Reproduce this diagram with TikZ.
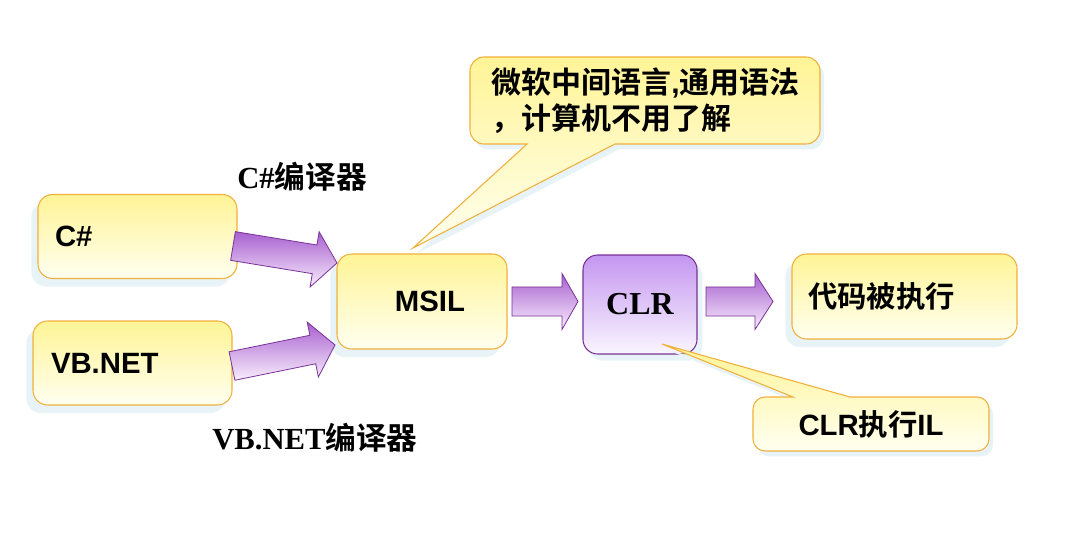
\documentclass[tikz,border=0pt]{standalone}
\usepackage{fontspec}
\setmainfont{Liberation Serif}
\newfontfamily\sans{Liberation Sans}
\newfontfamily\cjk{Noto Sans CJK SC}[BoldFont={Noto Sans CJK SC Bold}]
\usetikzlibrary{calc,shadows}
\definecolor{ytop}{RGB}{255,244,150}
\definecolor{ybot}{RGB}{255,255,240}
\definecolor{yborder}{RGB}{240,176,60}
\definecolor{ptop}{RGB}{196,150,240}
\definecolor{pbot}{RGB}{250,246,255}
\definecolor{pborder}{RGB}{120,50,150}
\definecolor{atop}{RGB}{168,96,208}
\definecolor{abot}{RGB}{248,238,252}
\definecolor{shadowc}{RGB}{232,243,248}
\newcommand\pxu{*0.75pt}
\newcommand\blockarrow[3]{%
  \coordinate (bah) at ($(#2)!#3!(#1)$);
  \draw[barrow] ($(#1)!10.9pt!90:(#2)$) -- ($(bah)!10.9pt!90:(#2)$) -- ($(bah)!21pt!90:(#2)$) -- (#2)
    -- ($(bah)!21pt!-90:(#2)$) -- ($(bah)!10.9pt!-90:(#2)$) -- ($(#1)!10.9pt!-90:(#2)$) -- cycle;}
\tikzset{
  boxshadow/.style={general shadow={fill=shadowc, shadow xshift=-5pt, shadow yshift=-6pt}},
  ybox/.style={rounded corners=11pt, draw=yborder, line width=0.8pt, top color=ytop, bottom color=ybot,
    boxshadow, inner sep=0pt, font=\sans\bfseries\fontsize{22}{26}\selectfont},
  pbox/.style={rounded corners=11pt, draw=pborder, line width=0.8pt, top color=ptop, bottom color=pbot,
    general shadow={fill=shadowc, shadow xshift=4pt, shadow yshift=-5pt}, inner sep=0pt,
    font=\bfseries\fontsize{24}{28}\selectfont},
  barrow/.style={draw=pborder, line width=0.6pt, top color=atop, bottom color=abot},
  callout/.style={draw=yborder, line width=0.8pt, top color=ytop, bottom color=ybot,
    general shadow={fill=shadowc, shadow xshift=3pt, shadow yshift=-4pt}},
  lbl/.style={inner sep=0pt, anchor=west, font=\bfseries\fontsize{23}{27}\selectfont},
  ctext/.style={inner sep=0pt, font=\cjk\bfseries\fontsize{22.5}{27}\selectfont}
}
\begin{document}
\begin{tikzpicture}[x=0.75pt,y=-0.75pt]
\useasboundingbox[fill=white] (0,0) rectangle (1069,538);

% boxes
\node[ybox, minimum width=199\pxu, minimum height=84\pxu, text width=165\pxu, inner xsep=17\pxu, align=left] (cs) at (137.5,236.5) {C\#};
\node[ybox, minimum width=199\pxu, minimum height=84\pxu, text width=163\pxu, inner xsep=18\pxu, align=left] (vb) at (132.5,363) {VB.NET};
\node[ybox, minimum width=170\pxu, minimum height=95\pxu] (msil) at (422,301.5) {\hspace*{12pt}MSIL};
\node[pbox, minimum width=114\pxu, minimum height=99\pxu] (clr) at (640,304.5) {CLR};
\node[ybox, minimum width=225\pxu, minimum height=85\pxu, text width=193\pxu, inner xsep=16\pxu, align=left] (exec) at (904.5,296.5) {\cjk 代码被执行};

% labels
\node[lbl] (l1) at (237,177) {C\#{\cjk 编译器}};
\node[lbl] (l2) at (212,438) {VB.NET{\cjk 编译器}};

% block arrows
\coordinate (a1s) at (233,246); \coordinate (a1e) at (337,263);
\coordinate (a2s) at (232,366); \coordinate (a2e) at (335,345);
\coordinate (a3s) at (512,301.5); \coordinate (a3e) at (578,301.5);
\coordinate (a4s) at (706,301.5); \coordinate (a4e) at (773,301.5);
\blockarrow{a1s}{a1e}{17pt}
\blockarrow{a2s}{a2e}{17pt}
\blockarrow{a3s}{a3e}{12pt}
\blockarrow{a4s}{a4e}{13.5pt}

% callout 1
\coordinate (t1) at (413,248);
\draw[callout] (484,57) -- (806,57) arc[start angle=-90, end angle=0, radius=14]
  -- (820,130) arc[start angle=0, end angle=90, radius=14]
  -- (615,144) -- (t1) -- (527,144)
  -- (484,144) arc[start angle=90, end angle=180, radius=14]
  -- (470,71) arc[start angle=180, end angle=270, radius=14] -- cycle;
\node[ctext, anchor=west, align=left] (c1) at (491,101) {微软中间语言{\sans\bfseries ,}通用语法\\，计算机不用了解};

% callout 2
\coordinate (t2) at (662,344);
\draw[callout] (t2) -- (850,397) -- (977,397) arc[start angle=-90, end angle=0, radius=12]
  -- (989,439) arc[start angle=0, end angle=90, radius=12]
  -- (765,451) arc[start angle=90, end angle=180, radius=12]
  -- (753,409) arc[start angle=180, end angle=270, radius=12]
  -- (793,397) -- cycle;
\node[inner sep=0pt, font=\sans\bfseries\fontsize{22}{26}\selectfont] (c2) at (871,424) {CLR{\cjk 执行}IL};
\end{tikzpicture}
\end{document}
